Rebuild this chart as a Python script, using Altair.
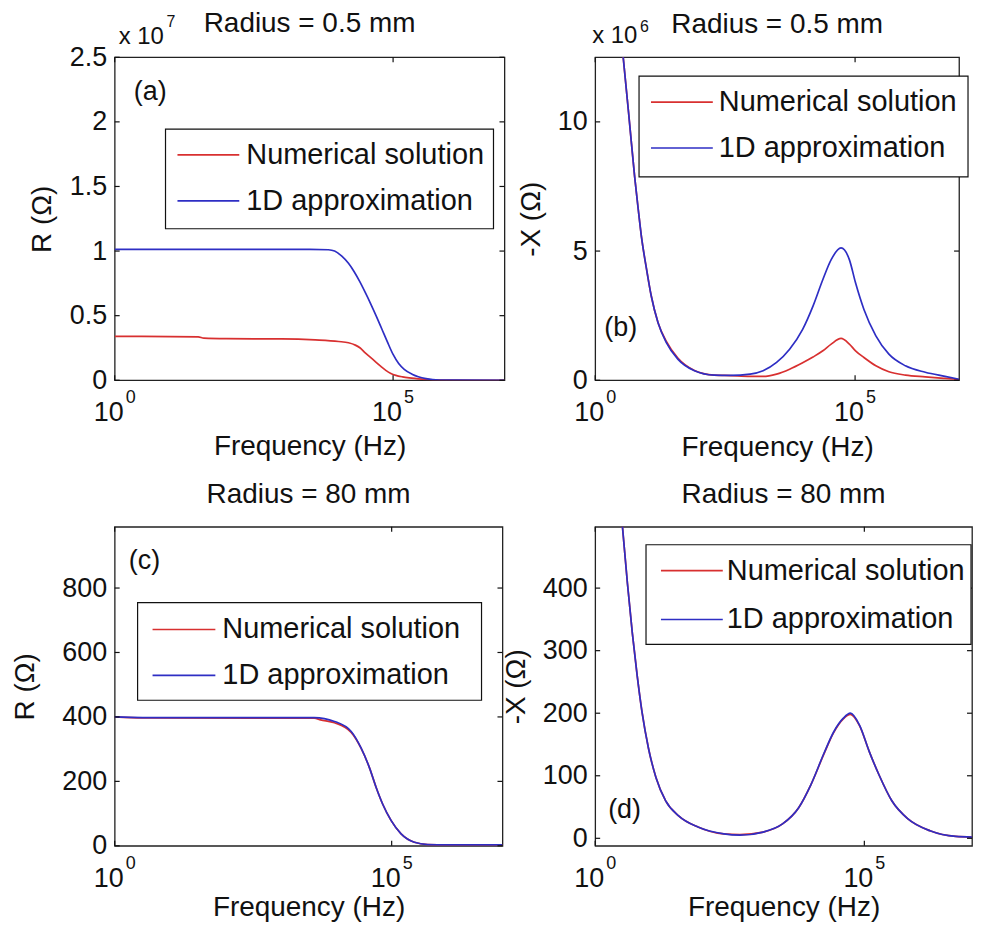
import altair as alt
import pandas as pd

FONT = "Liberation Sans"
INK = "#111111"
SERIES = ["Numerical solution", "1D approximation"]
COLORS = ["#d83030", "#2e2ec4"]

X_TICKS = [1, 100000]
X_TICK_BASE = ["10", "10"]
X_TICK_EXP = ["0", "5"]

# ---------------- Panel (a): R, radius 0.5 mm ----------------
a_freq_num = [1, 31.6, 40, 100, 1000, 4000, 10500, 15800, 21000, 25700, 31600, 39800,
              49000, 60300, 74000, 91200, 112000, 148000, 195000, 340000, 680000, 10000000]
a_R_num = [3.40e6, 3.36e6, 3.26e6, 3.22e6, 3.20e6, 3.12e6, 3.00e6, 2.90e6, 2.72e6, 2.50e6,
           2.12e6, 1.75e6, 1.41e6, 1.08e6, 0.77e6, 0.53e6, 0.38e6, 0.26e6, 0.18e6, 0.08e6,
           0.01e6, 0]
a_freq_1d = [1, 3200, 6900, 8900, 12000, 15800, 20000, 25100, 31600, 39800, 50100,
             63100, 79400, 100000, 125900, 158500, 224000, 389000, 676000, 10000000]
a_R_1d = [1.013e7, 1.013e7, 1.010e7, 1.000e7, 9.6e6, 9.05e6, 8.4e6, 7.65e6, 6.8e6, 5.9e6,
          4.95e6, 3.95e6, 2.95e6, 2.0e6, 1.3e6, 0.85e6, 0.45e6, 0.13e6, 0.02e6, 0]

# ---------------- Panel (b): -X, radius 0.5 mm ----------------
b_freq = [3.31, 4.37, 5.0, 5.75, 6.76, 7.76, 9.77, 12.0, 16.2, 23.4,
          38.9, 81.3, 195, 398, 955, 1700, 3090, 5500, 9800, 15500,
          24000, 34700, 53700, 77600, 102000, 148000, 251000, 447000, 930000, 2240000,
          5370000, 10000000]
b_X_1d = [12.9e6, 10.4e6, 9.15e6, 7.87e6, 6.59e6, 5.56e6, 4.28e6, 3.26e6, 2.23e6, 1.46e6,
          0.82e6, 0.37e6, 0.20e6, 0.19e6, 0.24e6, 0.37e6, 0.69e6, 1.2e6, 1.97e6, 2.87e6,
          3.9e6, 4.67e6, 5.12e6, 4.67e6, 3.77e6, 2.74e6, 1.72e6, 1.01e6, 0.56e6, 0.31e6,
          0.15e6, 0.04e6]
b_X_num = [12.9e6, 10.4e6, 9.15e6, 7.87e6, 6.59e6, 5.56e6, 4.28e6, 3.26e6, 2.23e6, 1.50e6,
           0.86e6, 0.38e6, 0.20e6, 0.18e6, 0.15e6, 0.15e6, 0.24e6, 0.43e6, 0.68e6, 0.90e6,
           1.14e6, 1.40e6, 1.62e6, 1.40e6, 1.14e6, 0.88e6, 0.56e6, 0.33e6, 0.20e6, 0.13e6,
           0.07e6, 0.03e6]

# ---------------- Panel (c): R, radius 80 mm ----------------
c_freq_1d = [1, 3.2, 4000, 9300, 18600, 28000, 39800, 52500, 69000, 98000, 148000,
             257000, 447000, 1000000, 10000000]
c_R_1d = [400, 398, 398, 386, 355, 304, 242, 181, 129, 78, 37, 11, 4, 3, 3]
c_freq_num = [1, 3.2, 4000, 5200, 9300, 18600, 28000, 39800, 52500, 69000, 98000,
              148000, 257000, 447000, 1000000, 10000000]
c_R_num = [400, 397, 396, 391, 382, 352, 303, 242, 181, 129, 78, 37, 11, 4, 3, 3]

# ---------------- Panel (d): -X, radius 80 mm ----------------
d_freq = [3.16, 3.98, 4.9, 6.03, 7.41, 9.77, 13.5, 20.4, 35.5, 81.3,
          245, 490, 1320, 3020, 6030, 10200, 17800, 26900, 40700, 55000,
          81300, 123000, 186000, 324000, 646000, 1660000, 5000000, 10000000]
d_X_1d = [505, 407, 328, 260, 202, 144, 97, 60, 36, 18,
          7, 5, 10, 23, 49, 86, 136, 170, 192, 200,
          181, 139, 102, 60, 31, 12, 3, 2]
d_X_num = [505, 407, 328, 260, 202, 144, 97, 60, 36, 18,
           7, 6, 10, 23, 49, 86, 135, 169, 191, 198,
           180, 139, 102, 60, 31, 12, 3, 2]

color_scale = alt.Scale(domain=SERIES, range=COLORS)

TITLE_FS = 28
TICK_FS = 27
LEG_FS = 29


def make_panel(W, H, ydom, yticks, ytitle, ytitle_x, curves, title, title_y,
               tag, legend, xtitle_y, ylabel_expr=None, exp_text=None):
    xs = alt.Scale(type="log", domain=[1, 10000000], nice=False)
    ys = alt.Scale(domain=ydom, nice=False, zero=False)
    xa = alt.Axis(labels=False, ticks=False, domain=False, grid=False,
                  title="Frequency (Hz)", titleFont=FONT, titleFontSize=TITLE_FS,
                  titleFontWeight="normal", titleColor=INK, titleY=xtitle_y,
                  titleBaseline="alphabetic")
    ykw = dict(values=yticks, ticks=False, domain=False, grid=False,
               labelFont=FONT, labelFontSize=TICK_FS, labelColor=INK, labelPadding=8,
               labelOverlap=False, labelFlush=False,
               title=ytitle, titleFont=FONT, titleFontSize=TITLE_FS,
               titleFontWeight="normal", titleColor=INK, titleX=ytitle_x,
               titleY=H / 2, titleAngle=270, titleBaseline="middle", titleAlign="center")
    if ylabel_expr:
        ykw["labelExpr"] = ylabel_expr
    ya = alt.Axis(**ykw)

    X = lambda f: alt.X(f, type="quantitative", scale=xs, axis=xa)
    Y = lambda f: alt.Y(f, type="quantitative", scale=ys, axis=ya)

    layers = []
    for freq, vals, name in curves:
        df = pd.DataFrame({"f": freq, "v": vals, "series": name})
        layers.append(
            alt.Chart(df).mark_line(strokeWidth=1.7, clip=True, interpolate="monotone")
            .encode(x=X("f"), y=Y("v"),
                    color=alt.Color("series:N", scale=color_scale, legend=None))
        )

    # inward MATLAB-style ticks
    xt = pd.DataFrame({"f": X_TICKS, "base": X_TICK_BASE, "exp": X_TICK_EXP})
    yt = pd.DataFrame({"v": yticks})
    layers.append(alt.Chart(xt).mark_rule(color=INK, strokeWidth=1.2)
                  .encode(x=X("f"), y=alt.value(H), y2=alt.value(H - 5)))
    layers.append(alt.Chart(xt).mark_rule(color=INK, strokeWidth=1.2)
                  .encode(x=X("f"), y=alt.value(0), y2=alt.value(5)))
    layers.append(alt.Chart(yt).mark_rule(color=INK, strokeWidth=1.2)
                  .encode(y=Y("v"), x=alt.value(0), x2=alt.value(5)))
    layers.append(alt.Chart(yt).mark_rule(color=INK, strokeWidth=1.2)
                  .encode(y=Y("v"), x=alt.value(W - 5), x2=alt.value(W)))

    # x tick labels 10^n
    layers.append(alt.Chart(xt).mark_text(align="right", baseline="alphabetic", dx=9,
                                          fontSize=TICK_FS, color=INK, font=FONT)
                  .encode(x=X("f"), y=alt.value(H + 41), text="base:N"))
    layers.append(alt.Chart(xt).mark_text(align="left", baseline="alphabetic", dx=11,
                                          fontSize=18, color=INK, font=FONT)
                  .encode(x=X("f"), y=alt.value(H + 23), text="exp:N"))

    # panel tag (a)/(b)/...
    tdf = pd.DataFrame({"f": [tag[0]], "v": [tag[1]], "t": [tag[2]]})
    layers.append(alt.Chart(tdf).mark_text(align="left", baseline="middle",
                                           fontSize=TICK_FS, color=INK, font=FONT)
                  .encode(x=X("f"), y=Y("v"), text="t:N"))

    # panel title
    layers.append(alt.Chart(pd.DataFrame({"t": [title]}))
                  .mark_text(align="center", baseline="alphabetic", fontSize=TITLE_FS,
                             color=INK, font=FONT)
                  .encode(x=alt.value(W / 2), y=alt.value(title_y), text="t:N"))

    # y multiplier (x 10^n)
    if exp_text:
        base_x, base_y, txt, ex_x, ex_y, ex = exp_text
        layers.append(alt.Chart(pd.DataFrame({"t": [txt]}))
                      .mark_text(align="left", baseline="alphabetic", fontSize=24,
                                 color=INK, font=FONT)
                      .encode(x=alt.value(base_x), y=alt.value(base_y), text="t:N"))
        layers.append(alt.Chart(pd.DataFrame({"t": [ex]}))
                      .mark_text(align="left", baseline="alphabetic", fontSize=16,
                                 color=INK, font=FONT)
                      .encode(x=alt.value(ex_x), y=alt.value(ex_y), text="t:N"))

    # legend box
    bx1, bx2, by1, by2, lx1, lx2, ly1, ly2, tx = legend
    layers.append(alt.Chart(pd.DataFrame({"k": [0]}))
                  .mark_rect(fill="white", stroke=INK, strokeWidth=1.2)
                  .encode(x=alt.value(bx1), x2=alt.value(bx2),
                          y=alt.value(by1), y2=alt.value(by2)))
    for name, ly in zip(SERIES, [ly1, ly2]):
        ldf = pd.DataFrame({"series": [name]})
        layers.append(alt.Chart(ldf).mark_rule(strokeWidth=1.7)
                      .encode(x=alt.value(lx1), x2=alt.value(lx2), y=alt.value(ly),
                              color=alt.Color("series:N", scale=color_scale, legend=None)))
        layers.append(alt.Chart(ldf).mark_text(align="left", baseline="middle",
                                               fontSize=LEG_FS, color=INK, font=FONT)
                      .encode(x=alt.value(tx), y=alt.value(ly), text="series:N"))

    return alt.layer(*layers).properties(width=W, height=H)


pa = make_panel(
    W=391, H=324, ydom=[0, 25000000],
    yticks=[0, 5000000, 10000000, 15000000, 20000000, 25000000],
    ylabel_expr="'' + (datum.value / 10000000)",
    ytitle="R (Ω)", ytitle_x=-72,
    curves=[(a_freq_num, a_R_num, SERIES[0]), (a_freq_1d, a_R_1d, SERIES[1])],
    title="Radius = 0.5 mm", title_y=-25,
    tag=(2.2, 22300000, "(a)"),
    legend=(51, 380, 72, 172, 63, 125, 98, 144, 132),
    xtitle_y=74,
    exp_text=(4, -13, "x 10", 52, -30, "7"),
)
pb = make_panel(
    W=365, H=324, ydom=[0, 12500000],
    yticks=[0, 5000000, 10000000],
    ylabel_expr="'' + (datum.value / 1000000)",
    ytitle="-X (Ω)", ytitle_x=-64,
    curves=[(b_freq, b_X_num, SERIES[0]), (b_freq, b_X_1d, SERIES[1])],
    title="Radius = 0.5 mm", title_y=-24,
    tag=(1.5, 2040000, "(b)"),
    legend=(44, 374, 19, 120, 56, 118, 45, 91, 124),
    xtitle_y=75,
    exp_text=(-3, -14, "x 10", 45, -25, "6"),
)
pc = make_panel(
    W=389, H=320, ydom=[0, 990],
    yticks=[0, 200, 400, 600, 800],
    ytitle="R (Ω)", ytitle_x=-89,
    curves=[(c_freq_num, c_R_num, SERIES[0]), (c_freq_1d, c_R_1d, SERIES[1])],
    title="Radius = 80 mm", title_y=-24,
    tag=(1.8, 885, "(c)"),
    legend=(23, 368, 76, 174, 38, 101, 103, 149, 108),
    xtitle_y=70,
)
pd_ = make_panel(
    W=378, H=320, ydom=[-12, 498],
    yticks=[0, 100, 200, 300, 400],
    ytitle="-X (Ω)", ytitle_x=-79,
    curves=[(d_freq, d_X_num, SERIES[0]), (d_freq, d_X_1d, SERIES[1])],
    title="Radius = 80 mm", title_y=-24,
    tag=(1.74, 45, "(d)"),
    legend=(51, 377, 18, 118, 66, 128, 44, 93, 132),
    xtitle_y=70,
)

chart = alt.concat(
    pa, pb, pc, pd_, columns=2,
    spacing={"row": 147, "column": 91}, bounds="flush", align="none",
).properties(
    padding={"left": 3, "top": 0, "right": 0, "bottom": 0},
    background="white",
).configure(font=FONT).configure_view(stroke="#222222", strokeWidth=1.3)

chart.save("out.html", embed_options={"renderer": "svg", "actions": False})
